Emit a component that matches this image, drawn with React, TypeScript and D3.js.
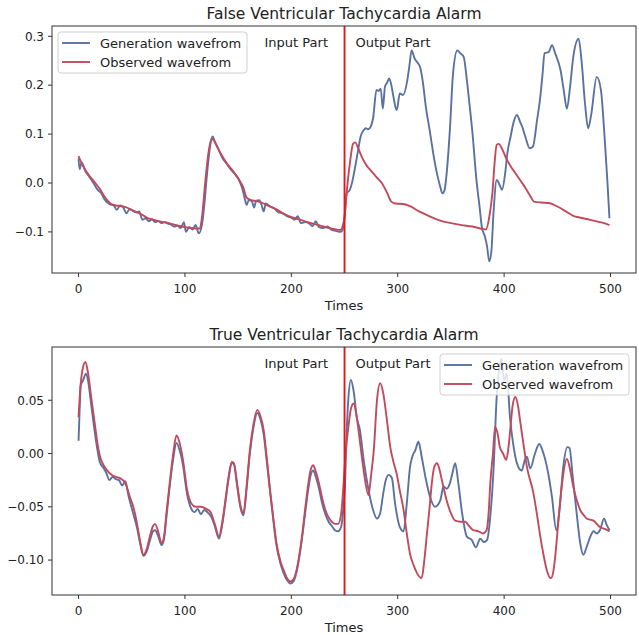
import React from "react";
import * as d3 from "d3";

type P = [number, number];

const xTicks = [0, 100, 200, 300, 400, 500];
const topYTicks = [-0.1, 0.0, 0.1, 0.2, 0.3];
const topYLabels = ["\u22120.1", "0.0", "0.1", "0.2", "0.3"];
const botYTicks = [-0.1, -0.05, 0.0, 0.05];
const botYLabels = ["\u22120.10", "\u22120.05", "0.00", "0.05"];
const splitAt = 250;
const titles = ["False Ventricular Tachycardia Alarm", "True Ventricular Tachycardia Alarm"];
const seriesNames = ["Generation wavefrom", "Observed wavefrom"];

const falseGenerated: P[] = [[0,0.05],[1,0.028],[3,0.042],[6,0.026],[10,0.013],[14,0.0],[18,-0.014],[21,-0.02],[24,-0.032],[27,-0.04],[30,-0.044],[33,-0.046],[36,-0.055],[39,-0.046],[42,-0.05],[45,-0.062],[48,-0.053],[51,-0.057],[54,-0.06],[57,-0.058],[60,-0.075],[63,-0.072],[66,-0.078],[69,-0.074],[72,-0.08],[75,-0.078],[78,-0.082],[81,-0.08],[84,-0.083],[87,-0.085],[90,-0.089],[93,-0.087],[96,-0.092],[99,-0.08],[101,-0.1],[104,-0.09],[107,-0.095],[110,-0.086],[113,-0.103],[116,-0.085],[118,-0.05],[120,0.0],[122,0.045],[124,0.08],[126,0.095],[128,0.085],[131,0.072],[135,0.052],[139,0.04],[143,0.028],[147,0.018],[151,0.005],[154,-0.012],[156,-0.03],[158,-0.045],[160,-0.035],[163,-0.038],[165,-0.05],[167,-0.036],[170,-0.035],[172,-0.045],[174,-0.058],[176,-0.042],[180,-0.048],[184,-0.052],[188,-0.06],[192,-0.062],[196,-0.068],[200,-0.071],[203,-0.075],[206,-0.068],[209,-0.082],[213,-0.08],[217,-0.083],[220,-0.088],[223,-0.078],[226,-0.09],[230,-0.092],[234,-0.089],[238,-0.096],[242,-0.098],[246,-0.1],[248,-0.097],[250,-0.07],[252,-0.021],[255,-0.014],[258,0.01],[260,0.033],[263,0.07],[265,0.094],[268,0.108],[270,0.112],[272,0.11],[274,0.113],[277,0.135],[280,0.19],[282,0.188],[284,0.193],[286,0.152],[288,0.197],[290,0.205],[292,0.214],[294,0.2],[296,0.176],[299,0.149],[302,0.183],[305,0.18],[309,0.21],[311,0.24],[313,0.271],[316,0.254],[319,0.245],[321,0.237],[324,0.2],[326,0.163],[330,0.108],[335,0.04],[340,-0.008],[342,-0.021],[344,-0.015],[346,0.02],[349,0.108],[352,0.224],[356,0.271],[359,0.265],[362,0.258],[365,0.21],[368,0.15],[370,0.108],[374,0.006],[377,-0.05],[379,-0.089],[382,-0.11],[384,-0.13],[386,-0.16],[388,-0.14],[390,-0.062],[393,0.006],[396,-0.005],[398,-0.014],[401,0.02],[403,0.06],[406,0.094],[409,0.125],[412,0.139],[415,0.125],[417,0.115],[420,0.094],[424,0.071],[427,0.074],[431,0.129],[434,0.176],[436,0.22],[438,0.265],[442,0.268],[445,0.282],[448,0.265],[453,0.231],[456,0.19],[459,0.152],[462,0.197],[465,0.258],[470,0.295],[473,0.244],[476,0.163],[479,0.112],[482,0.142],[487,0.217],[491,0.19],[494,0.108],[497,0.006],[499,-0.072]];

const falseObserved: P[] = [[0,0.055],[3,0.04],[6,0.028],[10,0.015],[15,0.002],[20,-0.012],[25,-0.03],[30,-0.042],[35,-0.046],[40,-0.047],[45,-0.05],[50,-0.055],[55,-0.06],[60,-0.065],[65,-0.072],[70,-0.075],[75,-0.078],[80,-0.08],[85,-0.082],[90,-0.085],[95,-0.088],[100,-0.09],[105,-0.092],[110,-0.093],[114,-0.093],[116,-0.07],[119,0.0],[122,0.06],[125,0.09],[127,0.088],[130,0.075],[135,0.055],[140,0.038],[145,0.025],[150,0.01],[155,-0.01],[158,-0.03],[162,-0.035],[167,-0.037],[172,-0.04],[177,-0.045],[182,-0.05],[187,-0.055],[192,-0.062],[197,-0.067],[202,-0.071],[207,-0.074],[212,-0.078],[217,-0.081],[222,-0.084],[227,-0.087],[232,-0.09],[237,-0.093],[242,-0.095],[246,-0.096],[248,-0.09],[250,-0.07],[252,-0.02],[255,0.04],[258,0.08],[260,0.083],[263,0.07],[267,0.05],[271,0.035],[275,0.025],[280,0.012],[285,0.0],[290,-0.02],[294,-0.038],[298,-0.042],[305,-0.043],[312,-0.048],[320,-0.058],[330,-0.068],[340,-0.077],[350,-0.082],[360,-0.086],[370,-0.089],[380,-0.094],[383,-0.095],[386,-0.07],[389,-0.02],[391,0.04],[393,0.078],[395,0.08],[398,0.07],[402,0.05],[406,0.035],[410,0.022],[415,0.006],[420,-0.01],[425,-0.028],[428,-0.038],[435,-0.04],[442,-0.041],[450,-0.048],[458,-0.058],[465,-0.067],[472,-0.071],[480,-0.075],[488,-0.079],[494,-0.082],[499,-0.086]];

const trueGenerated: P[] = [[0,0.012],[1,0.04],[2,0.064],[4,0.068],[7,0.075],[9,0.068],[12,0.045],[15,0.022],[18,0.002],[20,-0.008],[23,-0.013],[26,-0.018],[29,-0.025],[32,-0.022],[35,-0.024],[38,-0.025],[41,-0.03],[44,-0.026],[47,-0.04],[51,-0.055],[55,-0.07],[58,-0.085],[61,-0.096],[64,-0.092],[67,-0.082],[70,-0.073],[72,-0.072],[75,-0.078],[78,-0.086],[80,-0.082],[83,-0.056],[86,-0.028],[89,-0.005],[92,0.01],[95,0.003],[98,-0.01],[102,-0.038],[106,-0.052],[109,-0.055],[112,-0.052],[115,-0.057],[118,-0.053],[122,-0.056],[125,-0.06],[128,-0.068],[132,-0.08],[135,-0.067],[138,-0.046],[141,-0.024],[144,-0.009],[146,-0.01],[149,-0.03],[152,-0.05],[155,-0.058],[158,-0.033],[161,0.0],[164,0.022],[168,0.038],[171,0.032],[174,0.018],[177,-0.008],[180,-0.036],[183,-0.062],[186,-0.086],[190,-0.104],[193,-0.113],[196,-0.119],[199,-0.122],[202,-0.12],[205,-0.111],[208,-0.094],[210,-0.08],[213,-0.056],[216,-0.033],[218,-0.021],[220.5,-0.016],[223,-0.022],[226,-0.033],[229,-0.047],[232,-0.057],[235,-0.064],[238,-0.068],[241,-0.072],[244,-0.073],[247,-0.068],[249,-0.05],[250.5,-0.028],[252,0.02],[253.5,0.05],[256,0.069],[258.5,0.059],[261.5,0.034],[264.5,0.022],[268,-0.006],[272.5,-0.034],[276,-0.05],[280.5,-0.061],[283.5,-0.056],[286,-0.04],[288.5,-0.026],[291.5,-0.02],[294.5,-0.023],[297.5,-0.047],[302,-0.069],[305.5,-0.073],[308.5,-0.047],[311.5,-0.013],[314,-0.002],[316.5,0.003],[319.5,0.011],[322.5,-0.003],[326,-0.022],[330.5,-0.041],[335,-0.05],[340,-0.044],[343,-0.031],[346,-0.033],[349,-0.028],[351.5,-0.018],[354,-0.009],[357,-0.028],[360.5,-0.056],[365,-0.078],[369.5,-0.081],[373.5,-0.088],[377.5,-0.08],[381,-0.083],[384,-0.081],[387,-0.059],[390,-0.016],[393,0.053],[395.5,0.08],[397.5,0.089],[400,0.068],[402.5,0.075],[405.5,0.034],[408.5,0.009],[412,-0.009],[416.5,-0.016],[419.5,-0.006],[421.5,-0.003],[424.5,-0.014],[429,0.0],[433,0.009],[437,0.0],[441.5,-0.019],[445,-0.041],[449,-0.072],[452,-0.053],[455.5,-0.013],[459.5,0.006],[461.5,0.005],[464.5,-0.022],[468.5,-0.059],[471.5,-0.084],[474.5,-0.095],[477.5,-0.088],[481,-0.078],[484,-0.073],[487,-0.075],[490,-0.072],[494,-0.061],[496,-0.066],[499,-0.072]];

const trueObserved: P[] = [[0,0.034],[2,0.065],[4,0.08],[6.5,0.086],[9,0.075],[12,0.052],[15,0.03],[18,0.008],[20,-0.002],[23,-0.01],[27,-0.016],[31,-0.02],[35,-0.022],[39,-0.023],[44,-0.028],[48,-0.04],[52,-0.052],[55,-0.066],[58,-0.083],[61,-0.095],[64,-0.09],[67,-0.078],[70,-0.068],[72,-0.066],[75,-0.074],[78,-0.084],[80,-0.08],[83,-0.052],[86,-0.025],[89,0.0],[92,0.017],[95,0.01],[98,-0.005],[102,-0.034],[106,-0.047],[110,-0.05],[115,-0.05],[120,-0.052],[124,-0.055],[128,-0.066],[132,-0.078],[135,-0.065],[138,-0.044],[141,-0.022],[144,-0.008],[146,-0.009],[149,-0.028],[152,-0.048],[155,-0.056],[158,-0.03],[161,0.003],[164,0.025],[168,0.041],[171,0.035],[174,0.022],[177,-0.005],[180,-0.034],[183,-0.06],[186,-0.084],[190,-0.102],[193,-0.11],[196,-0.117],[199,-0.12],[202,-0.118],[205,-0.109],[208,-0.092],[210,-0.078],[213,-0.052],[216,-0.028],[218,-0.016],[220.5,-0.011],[223,-0.017],[226,-0.028],[229,-0.042],[232,-0.053],[235,-0.06],[238,-0.064],[241,-0.066],[244,-0.066],[247,-0.055],[249,-0.03],[251,0.0],[254,0.028],[256,0.042],[258.5,0.047],[261.5,0.034],[264,0.015],[268,-0.016],[272.5,-0.039],[275,-0.02],[277.5,0.003],[280.5,0.05],[283.5,0.066],[286.5,0.056],[290,0.03],[293,0.006],[296,-0.008],[299,-0.019],[302,-0.035],[305.5,-0.053],[308.5,-0.075],[311.5,-0.094],[315,-0.105],[318,-0.112],[322.5,-0.117],[325,-0.1],[327.5,-0.075],[330,-0.05],[332,-0.028],[334.5,-0.012],[337,-0.009],[339,-0.014],[341.5,-0.025],[346,-0.044],[350,-0.056],[354,-0.063],[359,-0.064],[363.5,-0.064],[367,-0.068],[371,-0.072],[376,-0.073],[380,-0.075],[383.5,-0.072],[385.5,-0.055],[387,-0.028],[389.5,0.0],[391.5,0.025],[394,0.018],[396,0.006],[399,0.0],[402,-0.006],[404,0.005],[406,0.025],[408,0.045],[410.5,0.053],[413,0.045],[415,0.031],[418,0.01],[421.5,-0.013],[427.5,-0.037],[431,-0.058],[434,-0.078],[437,-0.095],[440,-0.109],[444,-0.117],[446,-0.112],[448,-0.097],[450,-0.075],[452.5,-0.047],[455.5,-0.02],[459,-0.005],[462,-0.015],[465,-0.031],[468,-0.043],[471.5,-0.053],[475,-0.058],[477.5,-0.061],[484,-0.063],[490,-0.069],[495,-0.071],[499,-0.073]];

const BLUE = "#5a72a0";
const RED = "#c24a5c";
const FONT = "DejaVu Sans, sans-serif";
const AX = "#333";

const LEFT = 52, RIGHT = 636;

interface PanelProps {
  top: number; bottom: number; yDomain: [number, number];
  yTicks: number[]; yLabels: string[]; title: string;
  gen: P[]; obs: P[]; legend: { x: number; y: number };
}

function Panel({ top, bottom, yDomain, yTicks, yLabels, title, gen, obs, legend }: PanelProps) {
  const x = d3.scaleLinear().domain([-24.95, 523.95]).range([LEFT, RIGHT]);
  const y = d3.scaleLinear().domain(yDomain).range([bottom, top]);
  const line = d3.line<P>().x(d => x(d[0])).y(d => y(d[1])).curve(d3.curveMonotoneX);
  const cx = (LEFT + RIGHT) / 2;
  const lw = 189, lh = 41;
  return (
    <g>
      <text x={cx} y={top - 7} textAnchor="middle" fontSize={15.5} fontFamily={FONT} fill="#222">{title}</text>
      <defs>
        <clipPath id={`clip${top}`}><rect x={LEFT} y={top} width={RIGHT - LEFT} height={bottom - top} /></clipPath>
      </defs>
      <g clipPath={`url(#clip${top})`}>
        <path d={line(gen) || ""} fill="none" stroke={BLUE} strokeWidth={1.9} strokeLinejoin="round" />
        <path d={line(obs) || ""} fill="none" stroke={RED} strokeWidth={1.9} strokeLinejoin="round" />
        <line x1={x(splitAt)} x2={x(splitAt)} y1={top} y2={bottom} stroke="#e8141a" strokeWidth={1.9} />
      </g>
      <text x={x(splitAt) - 80} y={top + 20.5} fontSize={13} fontFamily={FONT} fill="#222">Input Part</text>
      <text x={x(splitAt) + 11} y={top + 20.5} fontSize={13} fontFamily={FONT} fill="#222">Output Part</text>
      <rect x={LEFT} y={top} width={RIGHT - LEFT} height={bottom - top} fill="none" stroke={AX} strokeWidth={1} />
      {xTicks.map(t => (
        <g key={t}>
          <line x1={x(t)} x2={x(t)} y1={bottom} y2={bottom + 4} stroke={AX} />
          <text x={x(t)} y={bottom + 20} textAnchor="middle" fontSize={12} fontFamily={FONT} fill="#222">{t}</text>
        </g>
      ))}
      {yTicks.map((t, i) => (
        <g key={t}>
          <line x1={LEFT - 4} x2={LEFT} y1={y(t)} y2={y(t)} stroke={AX} />
          <text x={LEFT - 8} y={y(t) + 4.3} textAnchor="end" fontSize={12} fontFamily={FONT} fill="#222">{yLabels[i]}</text>
        </g>
      ))}
      <text x={cx} y={bottom + 37} textAnchor="middle" fontSize={13} fontFamily={FONT} fill="#222">Times</text>
      <g transform={`translate(${legend.x},${legend.y})`}>
        <rect x={0} y={0} width={lw} height={lh} rx={3} fill="#fff" fillOpacity={0.8} stroke="#d0d0d0" />
        {[BLUE, RED].map((c, i) => (
          <g key={c}>
            <line x1={4} x2={32} y1={11 + i * 19} y2={11 + i * 19} stroke={c} strokeWidth={1.9} />
            <text x={42} y={15.5 + i * 19} fontSize={13} fontFamily={FONT} fill="#222">{seriesNames[i]}</text>
          </g>
        ))}
      </g>
    </g>
  );
}

export default function App() {
  return (
    <svg width={639} height={635} style={{ position: "absolute", left: 0, top: 0, background: "#fff" }}>
      <rect width={639} height={635} fill="#fff" />
      <Panel top={26} bottom={273} yDomain={[-0.184, 0.321]} yTicks={topYTicks} yLabels={topYLabels}
        title={titles[0]} gen={falseGenerated} obs={falseObserved} legend={{ x: 58, y: 32 }} />
      <Panel top={347} bottom={595} yDomain={[-0.1328, 0.1]} yTicks={botYTicks} yLabels={botYLabels}
        title={titles[1]} gen={trueGenerated} obs={trueObserved} legend={{ x: 440, y: 354 }} />
    </svg>
  );
}
